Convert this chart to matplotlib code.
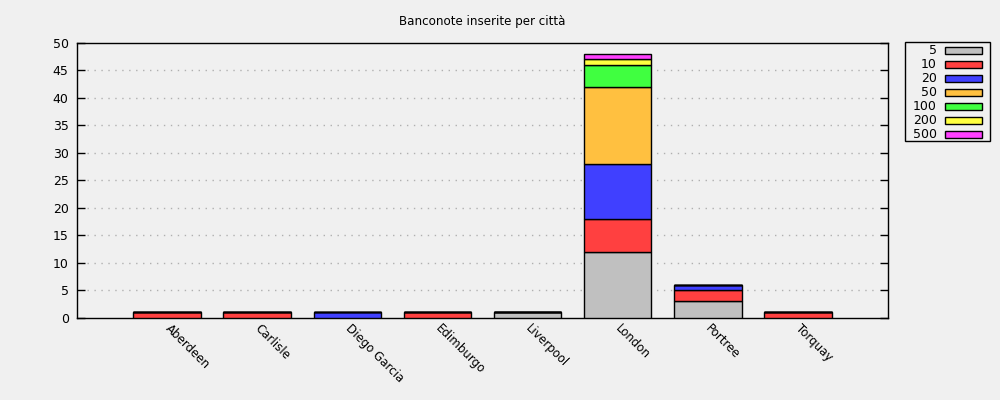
import matplotlib
matplotlib.use("Agg")
import matplotlib.pyplot as plt
from matplotlib.patches import Rectangle
import numpy as np

cities = ["Aberdeen", "Carlisle", "Diego Garcia", "Edimburgo", "Liverpool", "London", "Portree", "Torquay"]
denominations = ["5", "10", "20", "50", "100", "200", "500"]
counts = {
    "5":   [0, 0, 0, 0, 1, 12, 3, 0],
    "10":  [1, 1, 0, 1, 0, 6, 2, 1],
    "20":  [0, 0, 1, 0, 0, 10, 1, 0],
    "50":  [0, 0, 0, 0, 0, 14, 0, 0],
    "100": [0, 0, 0, 0, 0, 4, 0, 0],
    "200": [0, 0, 0, 0, 0, 1, 0, 0],
    "500": [0, 0, 0, 0, 0, 1, 0, 0],
}
colors = ["#c0c0c0", "#ff4040", "#4040ff", "#ffc040", "#40ff40", "#ffff40", "#ff40ff"]
yticks = list(range(0, 55, 5))
title = "Banconote inserite per città"

bg = "#f0f0f0"
fig = plt.figure(figsize=(10, 4), dpi=100, facecolor=bg)
ax = fig.add_axes([0.077, 0.205, 0.811, 0.688])
ax.set_facecolor(bg)

x = np.arange(len(cities))
bottom = np.zeros(len(cities))
for d, c in zip(denominations, colors):
    vals = np.array(counts[d], dtype=float)
    ax.bar(x, vals, width=0.75, bottom=bottom, color=c, edgecolor="black", linewidth=1.0, zorder=3)
    bottom += vals

ax.set_xlim(-1, len(cities))
ax.set_ylim(0, 50)
ax.set_yticks(yticks)
ax.tick_params(axis="y", direction="in", length=6, width=1, right=True, labelsize=9, pad=6)
ax.set_xticks(x)
ax.set_xticklabels(cities, rotation=-45, ha="left", va="center", rotation_mode="anchor", fontsize=8.5)
ax.tick_params(axis="x", length=0, pad=6)
for s in ax.spines.values():
    s.set_linewidth(1.0)
for yv in yticks[1:-1]:
    ax.axhline(yv, color="#b0b0b0", linestyle=(0, (1, 4)), linewidth=1, zorder=1, xmin=0.012, xmax=0.988)

fig.text(0.4825, 0.945, title, ha="center", va="center", fontsize=8.6)

# legend (manual, gnuplot style)
W, H = 1000, 400
fig.patches.append(Rectangle((905 / W, 1 - 141 / H), 85 / W, 99 / H, transform=fig.transFigure,
                             facecolor=bg, edgecolor="black", linewidth=1.0))
for i, (d, c) in enumerate(zip(denominations, colors)):
    yc = 50 + 14 * i
    fig.text(937 / W, 1 - yc / H, d, ha="right", va="center", fontsize=9)
    fig.patches.append(Rectangle((945 / W, 1 - (yc + 3.5) / H), 37 / W, 7 / H, transform=fig.transFigure,
                                 facecolor=c, edgecolor="black", linewidth=1.0))

fig.savefig("out.png", dpi=100, facecolor=bg)
